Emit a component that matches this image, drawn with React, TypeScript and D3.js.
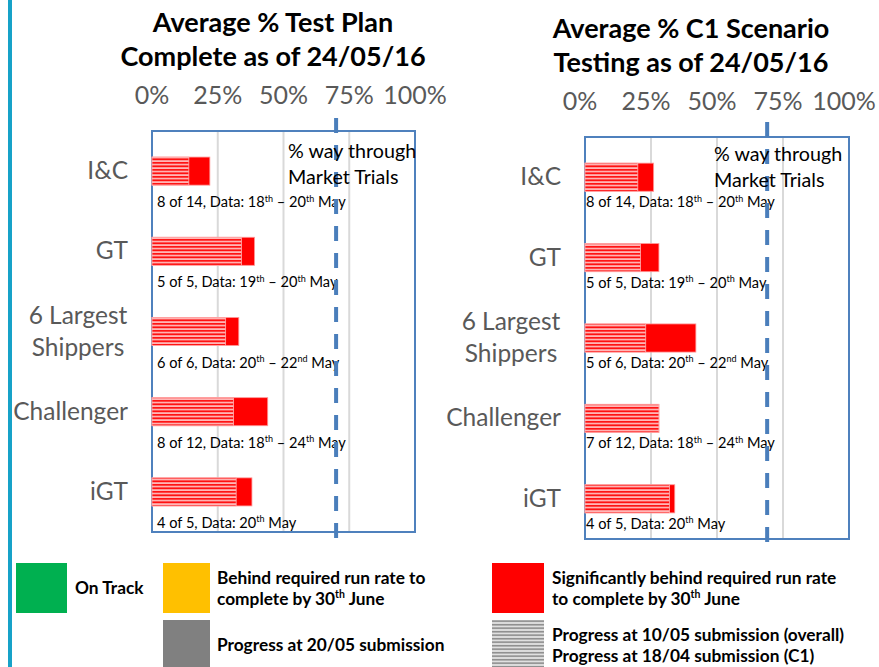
import React from "react";
import * as d3 from "d3";

const categories = ["I&C", "GT", "6 Largest|Shippers", "Challenger", "iGT"];
const tickValues = [0, 25, 50, 75, 100];

const planTitle = ["Average % Test Plan", "Complete as of 24/05/16"];
const planPrevious = [14, 34, 28, 31, 32];
const planCurrent = [22, 39, 33, 44, 38];
const planNotes = [
  "8 of 14, Data: 18^th – 20^th May",
  "5 of 5, Data: 19^th – 20^th May",
  "6 of 6, Data: 20^th – 22^nd May",
  "8 of 12, Data: 18^th – 24^th May",
  "4 of 5, Data: 20^th May",
];
const planMarketTrials = 70;

const c1Title = ["Average % C1 Scenario", "Testing as of 24/05/16"];
const c1Previous = [20, 21, 23, 28, 32];
const c1Current = [26, 28, 42, 28, 34];
const c1Notes = [
  "8 of 14, Data: 18^th – 20^th May",
  "5 of 5, Data: 19^th – 20^th May",
  "5 of 6, Data: 20^th – 22^nd May",
  "7 of 12, Data: 18^th – 24^th May",
  "4 of 5, Data: 20^th May",
];
const c1MarketTrials = 69;

const marketTrialsLabel = ["% way through", "Market Trials"];

const FONT = "Lato, 'Open Sans', sans-serif";

function RichText({ text, x, y, size }: { text: string; x: number; y: number; size: number }) {
  const parts = text.split(/(\^\w+)/).filter((p) => p.length);
  const out: React.ReactNode[] = [];
  let shifted = false;
  parts.forEach((p, i) => {
    if (p.startsWith("^")) {
      out.push(
        <tspan key={i} fontSize={size * 0.62} dy={-size * 0.38}>
          {p.slice(1)}
        </tspan>
      );
      shifted = true;
    } else {
      out.push(
        <tspan key={i} dy={shifted ? size * 0.38 : 0}>
          {p}
        </tspan>
      );
      shifted = false;
    }
  });
  return (
    <text x={x} y={y} fontSize={size} fill="#000" fontFamily={FONT}>
      {out}
    </text>
  );
}

type Layout = {
  x0: number; x1: number; y0: number; y1: number;
  titleCx: number; titleY: number[]; tickY: number; tickDx: number;
  labelRight: number; noteX: number; noteDy: number;
  dashTop: number; dashBottom: number; mtX: number; mtY: number;
};

function Panel({ title, prev, cur, notes, mt, L }: {
  title: string[]; prev: number[]; cur: number[]; notes: string[]; mt: number; L: Layout;
}) {
  const x = d3.scaleLinear().domain([0, 100]).range([L.x0, L.x1]);
  const y = d3.scaleBand<string>().domain(categories).range([L.y0, L.y1]).paddingInner(0.65).paddingOuter(0.325);
  const bw = y.bandwidth();
  return (
    <g>
      {title.map((t, i) => (
        <text key={i} x={L.titleCx} y={L.titleY[i]} textAnchor="middle" fontFamily={FONT} fontWeight="bold" fontSize={27} fill="#000">
          {t}
        </text>
      ))}
      {tickValues.map((t) => (
        <text key={t} x={x(t) + L.tickDx} y={L.tickY} textAnchor="middle" fontFamily={FONT} fontSize={25} fill="#595959">
          {t}%
        </text>
      ))}
      {tickValues.slice(1, -1).map((t) => (
        <line key={t} x1={x(t)} x2={x(t)} y1={L.y0} y2={L.y1} stroke="#d9d9d9" strokeWidth={2} />
      ))}
      <rect x={L.x0} y={L.y0} width={L.x1 - L.x0} height={L.y1 - L.y0} fill="none" stroke="#4f81bd" strokeWidth={2} />
      {categories.map((c, i) => {
        const yy = y(c)!;
        const cy = yy + bw / 2;
        const lines = c.split("|");
        const lh = 32;
        return (
          <g key={c}>
            <rect x={x(0)} y={yy} width={x(cur[i]) - x(0)} height={bw} fill="#ff0000" stroke="#ff9999" strokeWidth={0.8} />
            <rect x={x(0)} y={yy} width={x(prev[i]) - x(0)} height={bw} fill="url(#redHatch)" stroke="#ffb0b0" strokeWidth={0.8} />
            {lines.length === 1 ? (
              <text x={L.labelRight} y={cy + 8} textAnchor="end" fontFamily={FONT} fontSize={24.5} fill="#595959">
                {c}
              </text>
            ) : (
              lines.map((ln, k) => (
                <text key={k} x={L.labelRight - 50} y={cy + 8 + (k - (lines.length - 1) / 2) * lh} textAnchor="middle" fontFamily={FONT} fontSize={24.5} fill="#595959">
                  {ln}
                </text>
              ))
            )}
            <RichText text={notes[i]} x={L.noteX} y={cy + L.noteDy + 5} size={14.6} />
          </g>
        );
      })}
      <line x1={x(mt)} x2={x(mt)} y1={L.dashTop} y2={L.dashBottom} stroke="#4a7ebb" strokeWidth={4} strokeDasharray="15 12" />
      {marketTrialsLabel.map((t, i) => (
        <text key={i} x={L.mtX} y={L.mtY + i * 26} fontFamily={FONT} fontSize={19.7} fill="#000">
          {t}
        </text>
      ))}
    </g>
  );
}

const legendItems = [
  { color: "#00b050", lines: ["On Track"] },
  { color: "#ffc000", lines: ["Behind required run rate to", "complete by 30^th June"] },
  { color: "#808080", lines: ["Progress at 20/05 submission"] },
  { color: "#ff0000", lines: ["Significantly behind required run rate", "to complete by 30^th June"] },
  { color: "url(#grayHatch)", lines: ["Progress at 10/05 submission (overall)", "Progress at 18/04 submission (C1)"] },
];

function LegendText({ lines, x, cy }: { lines: string[]; x: number; cy: number }) {
  const lh = 21;
  return (
    <g>
      {lines.map((ln, k) => {
        const parts = ln.split(/(\^\w+)/).filter((p) => p.length);
        let shifted = false;
        return (
          <text key={k} x={x} y={cy + 6 + (k - (lines.length - 1) / 2) * lh} fontFamily={FONT} fontWeight="bold" fontSize={17.3} fill="#000">
            {parts.map((p, i) => {
              if (p.startsWith("^")) {
                shifted = true;
                return <tspan key={i} fontSize={10.5} dy={-6.5}>{p.slice(1)}</tspan>;
              }
              const dy = shifted ? 6.5 : 0;
              shifted = false;
              return <tspan key={i} dy={dy}>{p}</tspan>;
            })}
          </text>
        );
      })}
    </g>
  );
}

export default function App() {
  const left: Layout = {
    x0: 152, x1: 415, y0: 131, y1: 532, titleCx: 273, titleY: [32, 66], tickY: 104, tickDx: 0,
    labelRight: 128, noteX: 157, noteDy: 31, dashTop: 118, dashBottom: 550, mtX: 288, mtY: 158,
  };
  const right: Layout = {
    x0: 585, x1: 849, y0: 137, y1: 539, titleCx: 691, titleY: [38, 72], tickY: 110, tickDx: -5,
    labelRight: 561, noteX: 586, noteDy: 25, dashTop: 122, dashBottom: 552, mtX: 714, mtY: 161,
  };
  const legendPos = [
    { x: 16, y: 563 }, { x: 163, y: 563 }, { x: 163, y: 620 }, { x: 492, y: 563 }, { x: 492, y: 620 },
  ];
  return (
    <svg width={879} height={667} style={{ position: "absolute", left: 0, top: 0, display: "block", background: "#fff" }}>
      <defs>
        <pattern id="redHatch" patternUnits="userSpaceOnUse" width={8} height={3.5}>
          <rect width={8} height={3.5} fill="#ffc4c4" />
          <rect y={0.9} width={8} height={1.9} fill="#ff1010" />
        </pattern>
        <pattern id="grayHatch" patternUnits="userSpaceOnUse" width={8} height={3.5}>
          <rect width={8} height={3.5} fill="#e0e0e0" />
          <rect y={0.9} width={8} height={1.6} fill="#8c8c8c" />
        </pattern>
      </defs>
      <rect x={0} y={0} width={879} height={667} fill="#fff" />
      <rect x={8} y={0} width={4} height={667} fill="#17a2c8" />
      <Panel title={planTitle} prev={planPrevious} cur={planCurrent} notes={planNotes} mt={planMarketTrials} L={left} />
      <Panel title={c1Title} prev={c1Previous} cur={c1Current} notes={c1Notes} mt={c1MarketTrials} L={right} />
      {legendItems.map((it, i) => {
        const p = legendPos[i];
        const w = i === 0 ? 51 : 47;
        const tx = i === 0 ? 75 : i < 3 ? 217 : 552;
        return (
          <g key={i}>
            <rect x={p.x} y={p.y} width={i >= 3 ? 52 : w} height={50} fill={it.color} />
            <LegendText lines={it.lines} x={tx} cy={p.y + 25} />
          </g>
        );
      })}
    </svg>
  );
}
